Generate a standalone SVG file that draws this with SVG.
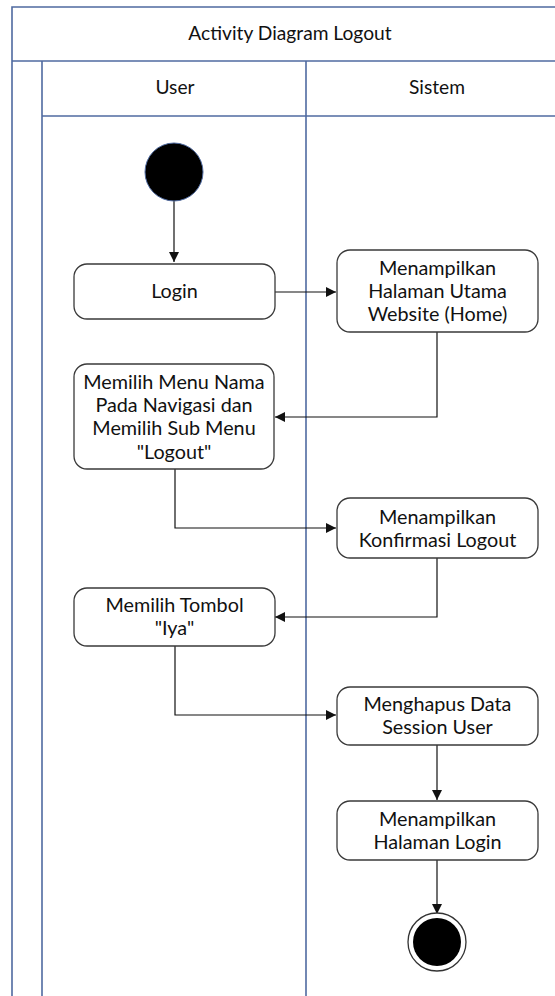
<svg xmlns="http://www.w3.org/2000/svg" width="555" height="996" viewBox="0 0 555 996">
<defs>
<style>
.lane{fill:none;stroke:#4f6aa0;stroke-width:1.6}
.box{fill:#fff;stroke:#3a3a3a;stroke-width:1.3}
.t{font-family:Lato,"Open Sans","Liberation Sans",sans-serif;font-size:19.8px;fill:#111;text-anchor:middle}
.h{font-family:Lato,"Open Sans","Liberation Sans",sans-serif;font-size:19.2px;fill:#111;text-anchor:middle}
.c{fill:none;stroke:#111;stroke-width:1.2}
</style>
<marker id="ar" viewBox="0 0 10 10" refX="10" refY="5" markerWidth="10" markerHeight="10" markerUnits="userSpaceOnUse" orient="auto">
<path d="M0,0 L10,5 L0,10 z" fill="#111"/>
</marker>
</defs>
<rect width="555" height="996" fill="#fff"/>
<g id="pool">
<path class="lane" d="M12,996 V7 H560"/>
<path class="lane" d="M12,61 H560"/>
<path class="lane" d="M42,61 V996"/>
<path class="lane" d="M306,61 V996"/>
<path class="lane" d="M42,116 H560"/>
<text class="h" x="290" y="40">Activity Diagram Logout</text>
<text class="h" x="175" y="94">User</text>
<text class="h" x="437" y="94">Sistem</text>
</g>
<g id="connectors">
<path class="c" d="M174,201 V262" marker-end="url(#ar)"/>
<path class="c" d="M275,292 H336" marker-end="url(#ar)"/>
<path class="c" d="M437,332 V417 H275" marker-end="url(#ar)"/>
<path class="c" d="M175,469 V528 H336" marker-end="url(#ar)"/>
<path class="c" d="M437,558 V617 H275" marker-end="url(#ar)"/>
<path class="c" d="M175,646 V715 H336" marker-end="url(#ar)"/>
<path class="c" d="M437,745 V800" marker-end="url(#ar)"/>
<path class="c" d="M437,860 V914" marker-end="url(#ar)"/>
</g>
<g id="start"><circle cx="174" cy="172" r="29" fill="#000" stroke="#4f6aa0" stroke-width="1"/></g>
<g id="login">
<rect class="box" x="74" y="264" width="201" height="55" rx="13"/>
<text class="t" x="174.5" y="298">Login</text>
</g>
<g id="home">
<rect class="box" x="337" y="250" width="201" height="82" rx="13"/>
<text class="t" x="437.5" y="275">Menampilkan</text>
<text class="t" x="437.5" y="298">Halaman Utama</text>
<text class="t" x="437.5" y="321">Website (Home)</text>
</g>
<g id="pilihmenu">
<rect class="box" x="74" y="364" width="200" height="105" rx="13"/>
<text class="t" x="174" y="389">Memilih Menu Nama</text>
<text class="t" x="174" y="412">Pada Navigasi dan</text>
<text class="t" x="174" y="435">Memilih Sub Menu</text>
<text class="t" x="174" y="459">"Logout"</text>
</g>
<g id="konfirmasi">
<rect class="box" x="337" y="498" width="201" height="60" rx="13"/>
<text class="t" x="437.5" y="524">Menampilkan</text>
<text class="t" x="437.5" y="547">Konfirmasi Logout</text>
</g>
<g id="tombol">
<rect class="box" x="74" y="588" width="201" height="58" rx="13"/>
<text class="t" x="174.5" y="612">Memilih Tombol</text>
<text class="t" x="174.5" y="635">"Iya"</text>
</g>
<g id="hapus">
<rect class="box" x="337" y="687" width="201" height="58" rx="13"/>
<text class="t" x="437.5" y="711">Menghapus Data</text>
<text class="t" x="437.5" y="734">Session User</text>
</g>
<g id="halamanlogin">
<rect class="box" x="337" y="801" width="201" height="59" rx="13"/>
<text class="t" x="437.5" y="826">Menampilkan</text>
<text class="t" x="437.5" y="849">Halaman Login</text>
</g>
<g id="end">
<circle cx="437" cy="942" r="29" fill="#fff" stroke="#333" stroke-width="1.3"/>
<circle cx="437" cy="942" r="24" fill="#000"/>
</g>
</svg>
